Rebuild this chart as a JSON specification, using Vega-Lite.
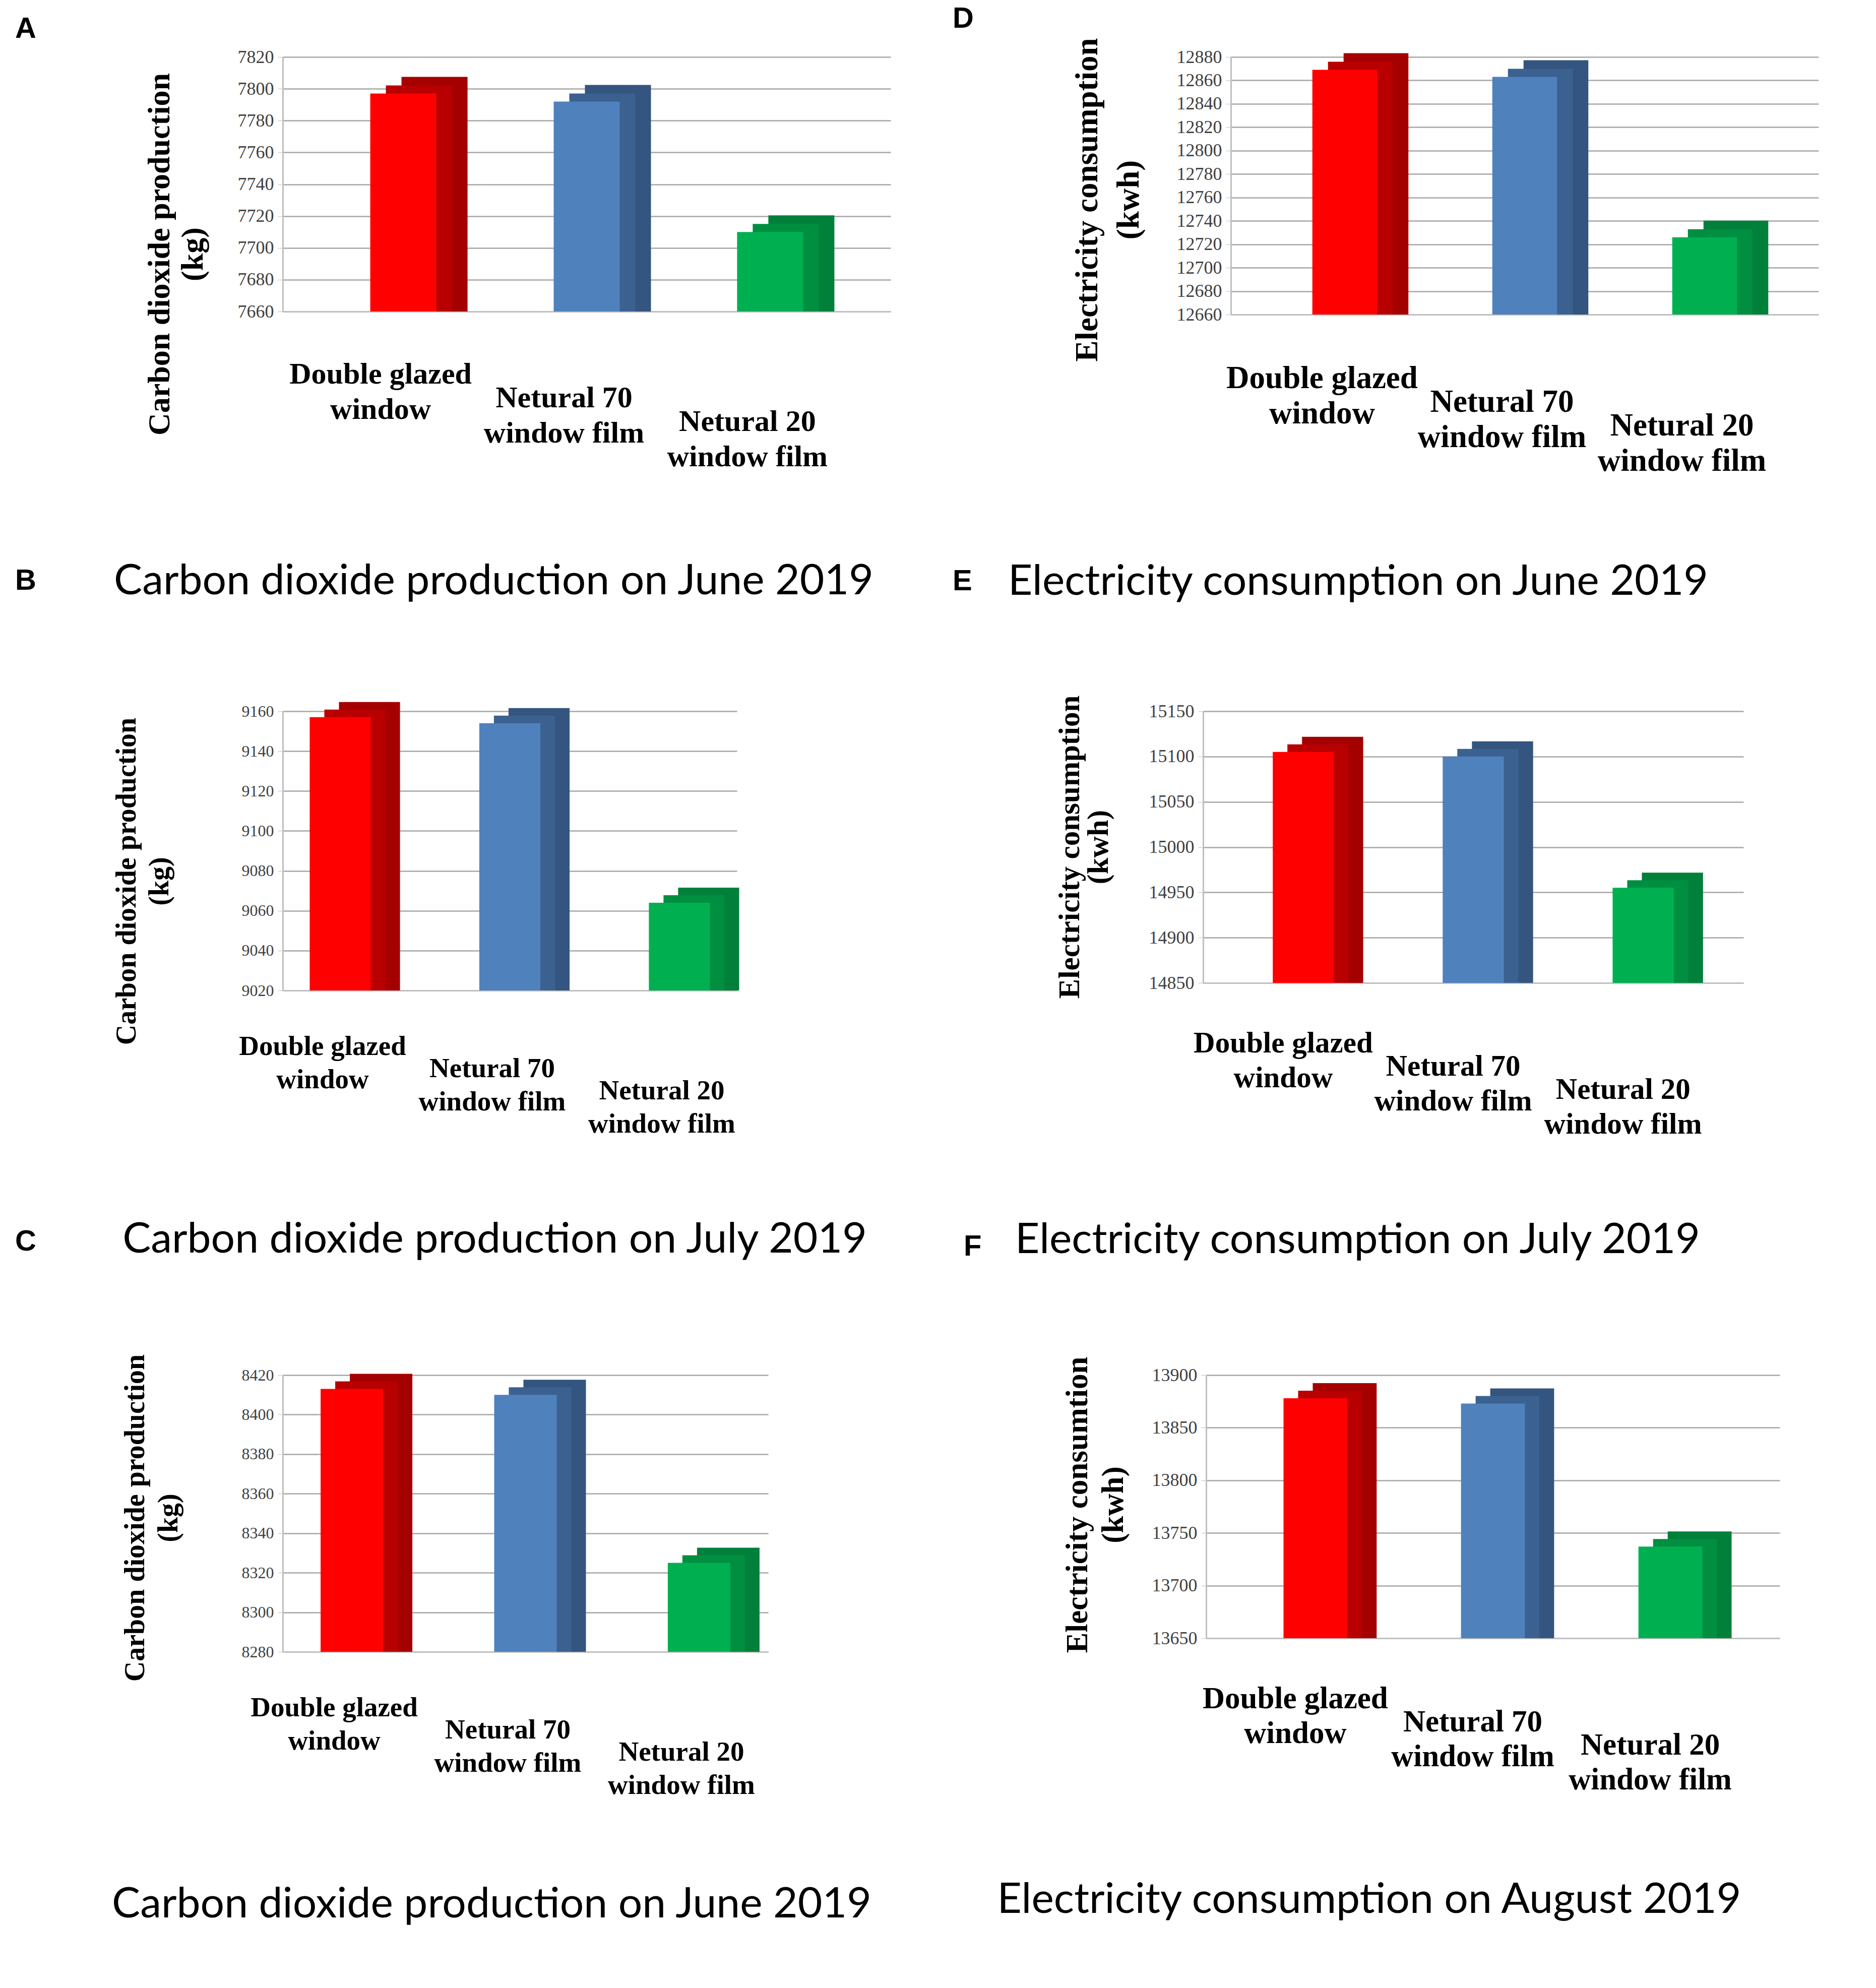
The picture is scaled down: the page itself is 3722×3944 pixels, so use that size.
{
  "$schema": "https://vega.github.io/schema/vega-lite/v6.json",
  "background": "white",
  "padding": {"left": 30, "top": 8, "right": 10, "bottom": 10},
  "columns": 1,
  "align": "none",
  "spacing": 183,
  "config": {
    "view": {"stroke": null},
    "title": {"font": "Liberation Sans", "fontSize": 58, "fontWeight": "bold", "color": "black", "anchor": "start", "frame": "group"},
    "axisX": {
      "labelFont": "Liberation Serif", "labelFontWeight": "bold", "labelFontSize": 60, "labelColor": "black",
      "labelAngle": 0, "labelBaseline": "top", "labelLineHeight": 70, "labelLimit": 0, "labelOverlap": false,
      "ticks": false, "domainColor": "#bfbfbf", "domainWidth": 3, "labelOffset": -45,
      "titleFont": "Lato", "titleFontSize": 84, "titleFontWeight": "normal", "titleColor": "black",
      "titleAlign": "center", "titleBaseline": "middle", "titleLimit": 3000, "grid": false
    },
    "axisY": {
      "labelFont": "Liberation Serif", "labelFontSize": 36, "labelColor": "#404040", "labelPadding": 8,
      "tickColor": "#bfbfbf", "tickSize": 10, "domainColor": "#bfbfbf", "domainWidth": 3,
      "gridColor": "#a6a6a6", "gridWidth": 2.5,
      "titleFont": "Liberation Serif", "titleFontWeight": "bold", "titleFontSize": 60, "titleColor": "black",
      "titleAlign": "center", "titleBaseline": "middle", "titleLineHeight": 70, "titleAngle": -90, "titleLimit": 3000,
      "format": "d"
    }
  },
  "concat": [
    {
      "spacing": 123,
      "hconcat": [
        {
          "title": {"text": "A", "offset": 8, "dx": -531},
          "vconcat": [
            {
              "width": 1206, "height": 505,
              "title": {"text": "B", "orient": "bottom", "baseline": "middle", "dx": -531, "dy": -42, "offset": 0},
              "data": {"values": [
                {"window": "Double glazed window", "value": 7797},
                {"window": "Netural 70 window film", "value": 7792},
                {"window": "Netural 20 window film", "value": 7710}
              ]},
              "encoding": {
                "x": {"field": "window", "type": "nominal", "sort": null,
                  "scale": {"paddingInner": 0.64, "paddingOuter": 0.477},
                  "axis": {"title": "Carbon dioxide production on June 2019", "titleX": 418, "titleY": 535,
                    "labelExpr": "datum.value == 'Double glazed window' ? ['Double glazed', 'window'] : datum.value == 'Netural 70 window film' ? ['Netural 70', 'window film'] : ['Netural 20', 'window film']",
                    "labelLineHeight": 70,
                    "labelPadding": {"condition": [
                      {"test": "datum.value == 'Double glazed window'", "value": 95},
                      {"test": "datum.value == 'Netural 70 window film'", "value": 142}], "value": 189}}},
                "y": {"field": "value", "type": "quantitative",
                  "scale": {"domain": [7660, 7820], "zero": false, "nice": false},
                  "axis": {"values": [7660, 7680, 7700, 7720, 7740, 7760, 7780, 7800, 7820],
                    "title": ["Carbon dioxide production", "(kg)"], "titleX": -245, "titleY": 391, "titleFontSize": 62, "titleLineHeight": 66}},
                "y2": {"datum": 7660}
              },
              "layer": [
                {"mark": {"type": "bar", "xOffset": 62, "yOffset": -33},
                 "encoding": {"color": {"field": "window", "type": "nominal", "legend": null,
                   "scale": {"domain": ["Double glazed window", "Netural 70 window film", "Netural 20 window film"], "range": ["#a50000", "#34557f", "#00803a"]}}}},
                {"mark": {"type": "bar", "xOffset": 31, "yOffset": -16},
                 "encoding": {"color": {"field": "window", "type": "nominal", "legend": null,
                   "scale": {"domain": ["Double glazed window", "Netural 70 window film", "Netural 20 window film"], "range": ["#b80000", "#3b6190", "#008f40"]}}}},
                {"mark": {"type": "bar"},
                 "encoding": {"color": {"field": "window", "type": "nominal", "legend": null,
                   "scale": {"domain": ["Double glazed window", "Netural 70 window film", "Netural 20 window film"], "range": ["#ff0000", "#4f81bd", "#00b050"]}}}}
              ],
              "resolve": {"scale": {"color": "independent"}}
            }
          ]
        },
        {
          "title": {"text": "D", "offset": 8, "dx": -552},
          "vconcat": [
            {
              "width": 1166, "height": 511,
              "title": {"text": "E", "orient": "bottom", "baseline": "middle", "dx": -552, "dy": -42, "offset": 0},
              "data": {"values": [
                {"window": "Double glazed window", "value": 12869},
                {"window": "Netural 70 window film", "value": 12863},
                {"window": "Netural 20 window film", "value": 12726}
              ]},
              "encoding": {
                "x": {"field": "window", "type": "nominal", "sort": null,
                  "scale": {"paddingInner": 0.64, "paddingOuter": 0.453},
                  "axis": {"title": "Electricity consumption on June 2019", "titleX": 252, "titleY": 530,
                    "labelExpr": "datum.value == 'Double glazed window' ? ['Double glazed', 'window'] : datum.value == 'Netural 70 window film' ? ['Netural 70', 'window film'] : ['Netural 20', 'window film']",
                    "labelFontSize": 63, "labelLineHeight": 70,
                    "labelPadding": {"condition": [
                      {"test": "datum.value == 'Double glazed window'", "value": 95},
                      {"test": "datum.value == 'Netural 70 window film'", "value": 142}], "value": 189}}},
                "y": {"field": "value", "type": "quantitative",
                  "scale": {"domain": [12660, 12880], "zero": false, "nice": false},
                  "axis": {"values": [12660, 12680, 12700, 12720, 12740, 12760, 12780, 12800, 12820, 12840, 12860, 12880],
                    "title": ["Electricity consumption", "(kwh)"], "titleX": -285, "titleY": 283, "titleFontSize": 63, "titleLineHeight": 82}},
                "y2": {"datum": 12660}
              },
              "layer": [
                {"mark": {"type": "bar", "xOffset": 62, "yOffset": -33},
                 "encoding": {"color": {"field": "window", "type": "nominal", "legend": null,
                   "scale": {"domain": ["Double glazed window", "Netural 70 window film", "Netural 20 window film"], "range": ["#a50000", "#34557f", "#00803a"]}}}},
                {"mark": {"type": "bar", "xOffset": 31, "yOffset": -16},
                 "encoding": {"color": {"field": "window", "type": "nominal", "legend": null,
                   "scale": {"domain": ["Double glazed window", "Netural 70 window film", "Netural 20 window film"], "range": ["#b80000", "#3b6190", "#008f40"]}}}},
                {"mark": {"type": "bar"},
                 "encoding": {"color": {"field": "window", "type": "nominal", "legend": null,
                   "scale": {"domain": ["Double glazed window", "Netural 70 window film", "Netural 20 window film"], "range": ["#ff0000", "#4f81bd", "#00b050"]}}}}
              ],
              "resolve": {"scale": {"color": "independent"}}
            }
          ]
        }
      ]
    },
    {
      "spacing": 190,
      "hconcat": [
        {
          "width": 901, "height": 554,
          "title": {"text": "C", "orient": "bottom", "baseline": "middle", "dx": -531, "dy": -37, "offset": 0},
          "data": {"values": [
            {"window": "Double glazed window", "value": 9157},
            {"window": "Netural 70 window film", "value": 9154},
            {"window": "Netural 20 window film", "value": 9064}
          ]},
          "encoding": {
            "x": {"field": "window", "type": "nominal", "sort": null,
              "scale": {"paddingInner": 0.64, "paddingOuter": 0.159},
              "axis": {"title": "Carbon dioxide production on July 2019", "titleX": 420, "titleY": 494,
                "labelExpr": "datum.value == 'Double glazed window' ? ['Double glazed', 'window'] : datum.value == 'Netural 70 window film' ? ['Netural 70', 'window film'] : ['Netural 20', 'window film']",
                "labelFontSize": 55, "labelLineHeight": 66, "labelOffset": -35,
                "labelPadding": {"condition": [
                  {"test": "datum.value == 'Double glazed window'", "value": 84},
                  {"test": "datum.value == 'Netural 70 window film'", "value": 128}], "value": 172}}},
            "y": {"field": "value", "type": "quantitative",
              "scale": {"domain": [9020, 9160], "zero": false, "nice": false},
              "axis": {"values": [9020, 9040, 9060, 9080, 9100, 9120, 9140, 9160],
                "title": ["Carbon dioxide production", "(kg)"], "titleX": -310, "titleY": 337, "titleFontSize": 56, "titleLineHeight": 65, "labelFontSize": 32}},
            "y2": {"datum": 9020}
          },
          "layer": [
            {"mark": {"type": "bar", "xOffset": 58, "yOffset": -30},
             "encoding": {"color": {"field": "window", "type": "nominal", "legend": null,
               "scale": {"domain": ["Double glazed window", "Netural 70 window film", "Netural 20 window film"], "range": ["#a50000", "#34557f", "#00803a"]}}}},
            {"mark": {"type": "bar", "xOffset": 29, "yOffset": -15},
             "encoding": {"color": {"field": "window", "type": "nominal", "legend": null,
               "scale": {"domain": ["Double glazed window", "Netural 70 window film", "Netural 20 window film"], "range": ["#b80000", "#3b6190", "#008f40"]}}}},
            {"mark": {"type": "bar"},
             "encoding": {"color": {"field": "window", "type": "nominal", "legend": null,
               "scale": {"domain": ["Double glazed window", "Netural 70 window film", "Netural 20 window film"], "range": ["#ff0000", "#4f81bd", "#00b050"]}}}}
          ],
          "resolve": {"scale": {"color": "independent"}}
        },
        {
          "width": 1072, "height": 539,
          "title": {"text": "F", "orient": "bottom", "baseline": "middle", "dx": -475, "dy": -28, "offset": 0},
          "data": {"values": [
            {"window": "Double glazed window", "value": 15105},
            {"window": "Netural 70 window film", "value": 15100},
            {"window": "Netural 20 window film", "value": 14955}
          ]},
          "encoding": {
            "x": {"field": "window", "type": "nominal", "sort": null,
              "scale": {"paddingInner": 0.64, "paddingOuter": 0.41},
              "axis": {"title": "Electricity consumption on July 2019", "titleX": 306, "titleY": 510,
                "labelExpr": "datum.value == 'Double glazed window' ? ['Double glazed', 'window'] : datum.value == 'Netural 70 window film' ? ['Netural 70', 'window film'] : ['Netural 20', 'window film']",
                "labelFontSize": 59, "labelLineHeight": 69, "labelOffset": -40,
                "labelPadding": {"condition": [
                  {"test": "datum.value == 'Double glazed window'", "value": 90},
                  {"test": "datum.value == 'Netural 70 window film'", "value": 136}], "value": 182}}},
            "y": {"field": "value", "type": "quantitative",
              "scale": {"domain": [14850, 15150], "zero": false, "nice": false},
              "axis": {"values": [14850, 14900, 14950, 15000, 15050, 15100, 15150],
                "title": ["Electricity consumption", "(kwh)"], "titleX": -265, "titleY": 269, "titleFontSize": 59, "titleLineHeight": 57}},
            "y2": {"datum": 14850}
          },
          "layer": [
            {"mark": {"type": "bar", "xOffset": 58, "yOffset": -30},
             "encoding": {"color": {"field": "window", "type": "nominal", "legend": null,
               "scale": {"domain": ["Double glazed window", "Netural 70 window film", "Netural 20 window film"], "range": ["#a50000", "#34557f", "#00803a"]}}}},
            {"mark": {"type": "bar", "xOffset": 29, "yOffset": -15},
             "encoding": {"color": {"field": "window", "type": "nominal", "legend": null,
               "scale": {"domain": ["Double glazed window", "Netural 70 window film", "Netural 20 window film"], "range": ["#b80000", "#3b6190", "#008f40"]}}}},
            {"mark": {"type": "bar"},
             "encoding": {"color": {"field": "window", "type": "nominal", "legend": null,
               "scale": {"domain": ["Double glazed window", "Netural 70 window film", "Netural 20 window film"], "range": ["#ff0000", "#4f81bd", "#00b050"]}}}}
          ],
          "resolve": {"scale": {"color": "independent"}}
        }
      ]
    },
    {
      "spacing": 245,
      "hconcat": [
        {
          "width": 963, "height": 549,
          "data": {"values": [
            {"window": "Double glazed window", "value": 8413},
            {"window": "Netural 70 window film", "value": 8410},
            {"window": "Netural 20 window film", "value": 8325}
          ]},
          "encoding": {
            "x": {"field": "window", "type": "nominal", "sort": null,
              "scale": {"paddingInner": 0.64, "paddingOuter": 0.218},
              "axis": {"title": "Carbon dioxide production on June 2019", "titleX": 414, "titleY": 501,
                "labelExpr": "datum.value == 'Double glazed window' ? ['Double glazed', 'window'] : datum.value == 'Netural 70 window film' ? ['Netural 70', 'window film'] : ['Netural 20', 'window film']",
                "labelFontSize": 55, "labelLineHeight": 66, "labelOffset": -35,
                "labelPadding": {"condition": [
                  {"test": "datum.value == 'Double glazed window'", "value": 84},
                  {"test": "datum.value == 'Netural 70 window film'", "value": 128}], "value": 172}}},
            "y": {"field": "value", "type": "quantitative",
              "scale": {"domain": [8280, 8420], "zero": false, "nice": false},
              "axis": {"values": [8280, 8300, 8320, 8340, 8360, 8380, 8400, 8420],
                "title": ["Carbon dioxide production", "(kg)"], "titleX": -293, "titleY": 283, "titleFontSize": 56, "titleLineHeight": 66, "labelFontSize": 32}},
            "y2": {"datum": 8280}
          },
          "layer": [
            {"mark": {"type": "bar", "xOffset": 58, "yOffset": -30},
             "encoding": {"color": {"field": "window", "type": "nominal", "legend": null,
               "scale": {"domain": ["Double glazed window", "Netural 70 window film", "Netural 20 window film"], "range": ["#a50000", "#34557f", "#00803a"]}}}},
            {"mark": {"type": "bar", "xOffset": 29, "yOffset": -15},
             "encoding": {"color": {"field": "window", "type": "nominal", "legend": null,
               "scale": {"domain": ["Double glazed window", "Netural 70 window film", "Netural 20 window film"], "range": ["#b80000", "#3b6190", "#008f40"]}}}},
            {"mark": {"type": "bar"},
             "encoding": {"color": {"field": "window", "type": "nominal", "legend": null,
               "scale": {"domain": ["Double glazed window", "Netural 70 window film", "Netural 20 window film"], "range": ["#ff0000", "#4f81bd", "#00b050"]}}}}
          ],
          "resolve": {"scale": {"color": "independent"}}
        },
        {
          "width": 1138, "height": 522,
          "data": {"values": [
            {"window": "Double glazed window", "value": 13878},
            {"window": "Netural 70 window film", "value": 13873},
            {"window": "Netural 20 window film", "value": 13737}
          ]},
          "encoding": {
            "x": {"field": "window", "type": "nominal", "sort": null,
              "scale": {"paddingInner": 0.64, "paddingOuter": 0.436},
              "axis": {"title": "Electricity consumption on August 2019", "titleX": 323, "titleY": 519,
                "labelExpr": "datum.value == 'Double glazed window' ? ['Double glazed', 'window'] : datum.value == 'Netural 70 window film' ? ['Netural 70', 'window film'] : ['Netural 20', 'window film']",
                "labelFontSize": 61, "labelLineHeight": 69, "labelOffset": -40,
                "labelPadding": {"condition": [
                  {"test": "datum.value == 'Double glazed window'", "value": 90},
                  {"test": "datum.value == 'Netural 70 window film'", "value": 136}], "value": 182}}},
            "y": {"field": "value", "type": "quantitative",
              "scale": {"domain": [13650, 13900], "zero": false, "nice": false},
              "axis": {"values": [13650, 13700, 13750, 13800, 13850, 13900],
                "title": ["Electricity consumtion", "(kwh)"], "titleX": -255, "titleY": 257, "titleFontSize": 61, "titleLineHeight": 71}},
            "y2": {"datum": 13650}
          },
          "layer": [
            {"mark": {"type": "bar", "xOffset": 58, "yOffset": -30},
             "encoding": {"color": {"field": "window", "type": "nominal", "legend": null,
               "scale": {"domain": ["Double glazed window", "Netural 70 window film", "Netural 20 window film"], "range": ["#a50000", "#34557f", "#00803a"]}}}},
            {"mark": {"type": "bar", "xOffset": 29, "yOffset": -15},
             "encoding": {"color": {"field": "window", "type": "nominal", "legend": null,
               "scale": {"domain": ["Double glazed window", "Netural 70 window film", "Netural 20 window film"], "range": ["#b80000", "#3b6190", "#008f40"]}}}},
            {"mark": {"type": "bar"},
             "encoding": {"color": {"field": "window", "type": "nominal", "legend": null,
               "scale": {"domain": ["Double glazed window", "Netural 70 window film", "Netural 20 window film"], "range": ["#ff0000", "#4f81bd", "#00b050"]}}}}
          ],
          "resolve": {"scale": {"color": "independent"}}
        }
      ]
    }
  ]
}
